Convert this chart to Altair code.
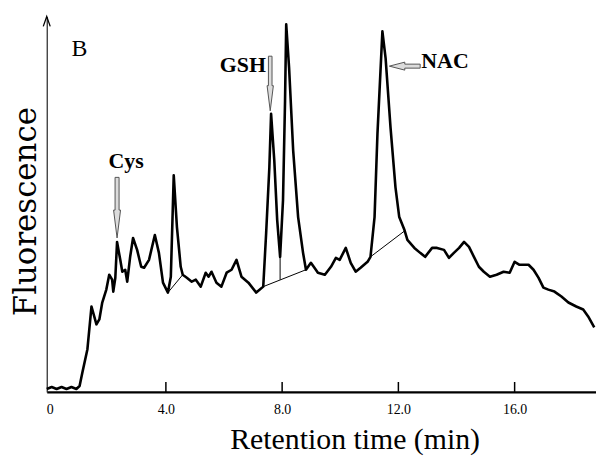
import altair as alt
import pandas as pd

# Chromatogram trace (retention time in min, fluorescence in arbitrary units)
time_min = [-0.10, 0.07, 0.24, 0.41, 0.58, 0.75, 0.92, 1.03, 1.13, 1.30,
            1.44, 1.61, 1.71, 1.81, 1.95, 2.05, 2.15, 2.19, 2.26, 2.32,
            2.43, 2.50, 2.60, 2.67, 2.77, 2.87, 3.01, 3.15, 3.25, 3.42,
            3.62, 3.76, 3.90, 4.07, 4.17, 4.27, 4.38, 4.51, 4.58, 4.72,
            4.89, 5.03, 5.20, 5.37, 5.47, 5.57, 5.74, 5.91, 6.09, 6.26,
            6.43, 6.60, 6.84, 7.11, 7.35, 7.45, 7.56, 7.62, 7.73, 7.83,
            7.93, 8.03, 8.10, 8.14, 8.24, 8.38, 8.55, 8.72, 8.82, 8.99,
            9.16, 9.23, 9.47, 9.68, 9.85, 9.98, 10.19, 10.36, 10.53, 10.70,
            10.94, 11.04, 11.18, 11.28, 11.45, 11.56, 11.73, 11.90, 12.03, 12.21,
            12.31, 12.55, 12.75, 12.92, 13.16, 13.33, 13.57, 13.74, 13.91, 14.09,
            14.26, 14.43, 14.60, 14.77, 14.94, 15.15, 15.38, 15.62, 15.83, 16.00,
            16.17, 16.48, 16.65, 16.82, 16.99, 17.16, 17.37, 17.61, 17.85, 18.12,
            18.36, 18.53, 18.74]
fluorescence = [3, 5, 3, 5, 3, 5, 3, 6, 20, 43,
                86, 68, 73, 90, 103, 118, 113, 101, 115, 151,
                133, 121, 123, 111, 136, 155, 143, 126, 125, 133,
                158, 140, 110, 100, 116, 218, 166, 126, 118, 115,
                111, 113, 106, 120, 116, 121, 110, 106, 120, 123,
                133, 116, 110, 100, 106, 160, 226, 280, 233, 173,
                136, 193, 293, 370, 326, 243, 176, 140, 123, 130,
                123, 120, 118, 126, 135, 133, 145, 130, 121, 125,
                131, 136, 176, 260, 363, 336, 266, 206, 176, 163,
                153, 145, 140, 136, 145, 145, 143, 135, 140, 145,
                151, 146, 136, 126, 121, 116, 118, 121, 120, 131,
                128, 128, 123, 115, 105, 103, 101, 96, 90, 86,
                83, 76, 65]

# Integration baselines / drop line
seg_t1 = [4.07, 7.35, 7.93, 11.04]
seg_s1 = [100, 106, 113, 136]
seg_t2 = [4.58, 8.82, 7.93, 12.21]
seg_s2 = [118, 123, 136, 162]

tick_values = [4, 8, 12, 16]
label_values = [0, 4, 8, 12, 16]

# Annotations
peak_names = ["Cys", "GSH", "NAC"]
name_t = [2.63, 6.65, 12.79]
name_s = [232, 329, 333]
arrow_t = [2.32, 7.59, 12.22]
arrow_s = [185.5, 310.5, 328]
panel_label = "B"
panel_t = [1.03]
panel_s = [345]

X_DOMAIN = [-0.1, 18.8]
Y_DOMAIN = [0, 378]

trace = pd.DataFrame({"t": time_min, "s": fluorescence})
segs = pd.DataFrame({"t": seg_t1, "s": seg_s1, "t2": seg_t2, "s2": seg_s2})
ticks = pd.DataFrame({"t": tick_values})
names = pd.DataFrame({"name": peak_names, "t": name_t, "s": name_s})
arrows = pd.DataFrame({"name": peak_names, "t": arrow_t, "s": arrow_s})
panel = pd.DataFrame({"name": [panel_label], "t": panel_t, "s": panel_s})
yarrow = pd.DataFrame({"t": [X_DOMAIN[0]], "s": [Y_DOMAIN[1]]})

xs = alt.Scale(domain=X_DOMAIN, nice=False, zero=False)
ys = alt.Scale(domain=Y_DOMAIN, nice=False, zero=False)

SERIF = "Liberation Serif"

X_AXIS = alt.Axis(
    values=label_values,
    labelExpr="datum.value == 0 ? '0' : format(datum.value, '.1f')",
    ticks=False, grid=False, domainColor="black", domainWidth=2.2,
    labelFont=SERIF, labelFontSize=14, labelColor="black", labelPadding=11,
    labelFlush=False, labelOverlap=False,
    title="Retention time (min)", titleFont=SERIF, titleFontSize=30,
    titleFontWeight="normal", titleColor="black", titleX=310, titleY=57,
    titleAlign="center", titleBaseline="alphabetic")
Y_AXIS = alt.Axis(
    ticks=False, labels=False, grid=False, domainColor="#222", domainWidth=1.2,
    title="Fluorescence", titleFont="DejaVu Serif", titleFontSize=31,
    titleFontWeight="normal", titleColor="black", titleAngle=270,
    titleX=-20, titleY=196, titleAlign="center", titleBaseline="middle")

def X(field="t:Q"):
    return alt.X(field, scale=xs, axis=X_AXIS)

def Y(field="s:Q"):
    return alt.Y(field, scale=ys, axis=Y_AXIS)

line = alt.Chart(trace).mark_line(color="black", strokeWidth=2.6, strokeJoin="round").encode(
    x=X(), y=Y(), order="t:Q",
)

baselines = alt.Chart(segs).mark_rule(color="black", strokeWidth=1).encode(
    x=X(), x2="t2:Q", y=Y(), y2="s2:Q",
)

tick_marks = alt.Chart(ticks).mark_rule(color="black", strokeWidth=1.5).encode(
    x=X(), y=alt.value(378), y2=alt.value(368),
)

y_arrow = alt.Chart(yarrow).mark_point(
    shape="M-0.35,1L0,0L0.35,1", size=400, filled=False,
    stroke="black", strokeWidth=1.3, opacity=1,
).encode(x=X(), y=Y())

DOWN_ARROW = "M-0.066,-1L0.066,-1L0.066,0.08L0.115,0.08L0,1L-0.115,0.08L-0.066,0.08Z"
LEFT_ARROW = "M-1,0L0,-0.26L0,-0.13L1,-0.13L1,0.13L0,0.13L0,0.26Z"

def arrow_layer(name, shape, size):
    return alt.Chart(arrows).transform_filter(alt.datum.name == name).mark_point(
        shape=shape, size=size, filled=True, fill="#dcdcdc", stroke="#555",
        strokeWidth=1, opacity=1,
    ).encode(x=X(), y=Y())

cys_arrow = arrow_layer("Cys", DOWN_ARROW, 3721)
gsh_arrow = arrow_layer("GSH", DOWN_ARROW, 3025)
nac_arrow = arrow_layer("NAC", LEFT_ARROW, 961)

center_names = alt.Chart(names).transform_filter(alt.datum.name != "NAC").mark_text(
    font=SERIF, fontSize=22, fontWeight="bold", color="black", align="center", baseline="middle"
).encode(x=X(), y=Y(), text="name:N")

left_names = alt.Chart(names).transform_filter(alt.datum.name == "NAC").mark_text(
    font=SERIF, fontSize=22, fontWeight="bold", color="black", align="left", baseline="middle"
).encode(x=X(), y=Y(), text="name:N")

panel_text = alt.Chart(panel).mark_text(
    font=SERIF, fontSize=24, color="black", align="center", baseline="middle"
).encode(x=X(), y=Y(), text="name:N")

chart = alt.layer(
    line, baselines, tick_marks, y_arrow, cys_arrow, gsh_arrow, nac_arrow,
    center_names, left_names, panel_text,
).properties(
    width=553, height=378,
    autosize=alt.AutoSizeParams(type="none"),
    padding={"left": 39, "top": 7, "right": 0, "bottom": 64},
    background="white",
).configure_view(stroke=None)

chart.save("out.html", embed_options={"renderer": "svg", "actions": False})
